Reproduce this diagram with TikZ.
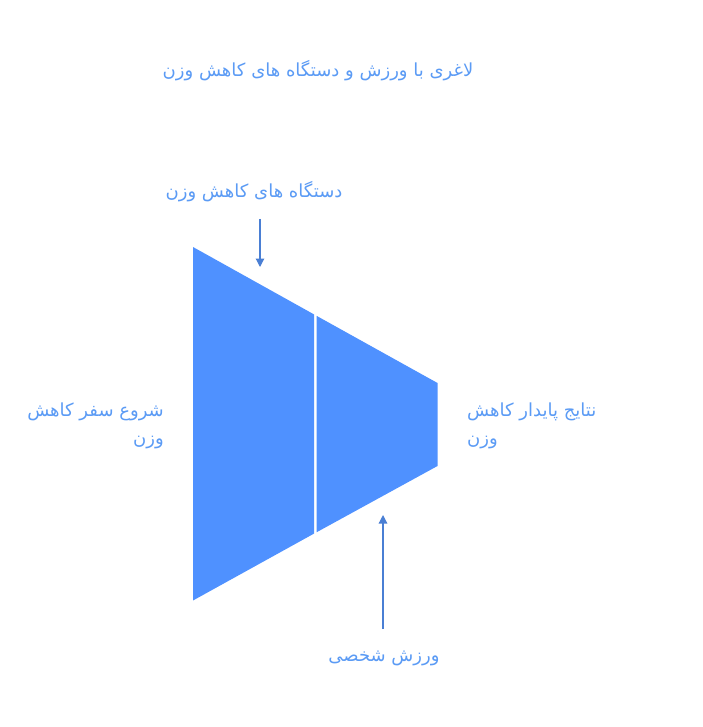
\documentclass[tikz,border=0pt]{standalone}
\usepackage{fontspec}
\usetikzlibrary{arrows.meta}
\TeXXeTstate=1
\newfontfamily\arabicfont[Script=Arabic]{DejaVu Sans}
\definecolor{shapeblue}{HTML}{4F91FF}
\definecolor{textblue}{HTML}{5B9BF5}
\definecolor{arrowblue}{HTML}{4A7FD4}
\begin{document}
\begin{tikzpicture}[x=1pt,y=-1pt,
  lbl/.style={text=textblue,font=\arabicfont\fontsize{18}{28}\selectfont,inner sep=0pt},
  seg/.style={fill=shapeblue,draw=none},
  pointer/.style={draw=arrowblue,line width=1.2pt,-{Triangle[length=8.5pt,width=8.5pt]}}]
\useasboundingbox (0,0) rectangle (702,727);
\fill[white] (0,0) rectangle (702,727);
% funnel segments
\path[seg] (193,247) -- (314,314.4) -- (314,533.6) -- (193,600.5) -- cycle;
\path[seg] (316.5,315.8) -- (437.5,383) -- (437.5,466) -- (316.5,532.3) -- cycle;
% labels
\node[lbl] (title) at (318,71) {\beginR لاغری با ورزش و دستگاه های کاهش وزن\endR};
\node[lbl] (top) at (254,192) {\beginR دستگاه های کاهش وزن\endR};
\node[lbl,anchor=east,align=right] (left) at (164,426) {\beginR شروع سفر کاهش\endR\\\beginR وزن\endR};
\node[lbl,anchor=west,align=left] (right) at (467,426) {\beginR نتایج پایدار کاهش\endR\\\beginR وزن\endR};
\node[lbl] (bottom) at (384,658) {\beginR ورزش شخصی\endR};
% pointers
\coordinate (ta) at (260,219);
\coordinate (tb) at (260,267);
\coordinate (ba) at (383,629);
\coordinate (bb) at (383,515);
\draw[pointer] (ta) -- (tb);
\draw[pointer] (ba) -- (bb);
\end{tikzpicture}
\end{document}
